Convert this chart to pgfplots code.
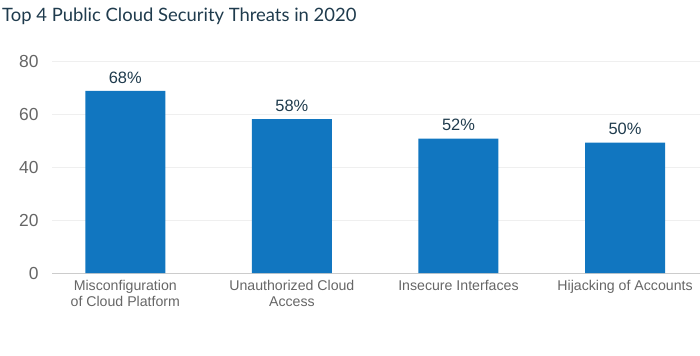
\documentclass[border=0pt]{standalone}
\usepackage{fontspec}
\setmainfont{Liberation Sans}
\newfontfamily\titlefont{Lato}
\usepackage{pgfplots}
\pgfplotsset{compat=1.18}
\definecolor{barblue}{HTML}{1176C0}
\definecolor{titlecol}{HTML}{1F3B4D}
\definecolor{tickgray}{HTML}{666666}
\definecolor{gridgray}{HTML}{EFEFEF}
\definecolor{axisgray}{HTML}{CCCCCC}
\begin{document}
\begin{tikzpicture}[x=1bp,y=1bp]
\useasboundingbox (0,0) rectangle (700,355);
\node[anchor=base west, font=\titlefont\fontsize{18.5}{22}\selectfont, text=titlecol, inner sep=0] at (2,334) {Top 4 Public Cloud Security Threats in 2020};
\begin{axis}[
  at={(52bp,82bp)}, anchor=south west,
  scale only axis, width=648bp, height=212bp,
  xmin=-0.44, xmax=3.45, ymin=0, ymax=80,
  ytick={0,20,40,60,80},
  xtick={0,1,2,3},
  xticklabels={{Misconfiguration\\of Cloud Platform},{Unauthorized Cloud\\Access},{Insecure Interfaces},{Hijacking of Accounts}},
  xticklabel style={align=center, font=\fontsize{14.2}{16}\selectfont, text=tickgray, anchor=north, yshift=-4bp},
  yticklabel style={font=\fontsize{17.5}{20}\selectfont, text=tickgray, anchor=east, xshift=-10bp},
  /pgf/number format/assume math mode=true,
  major tick length=0pt,
  ymajorgrids, grid style={gridgray, line width=0.8bp},
  axis x line*=bottom, axis y line*=left,
  x axis line style={axisgray, line width=1bp, -},
  y axis line style={draw=none},
  clip=false,
  nodes near coords={\pgfplotspointmeta},
  point meta=explicit symbolic,
  every node near coord/.append style={font=\fontsize{16.5}{19}\selectfont, text=titlecol, anchor=south, yshift=4bp},
]
\addplot[ybar, bar width=80bp, fill=barblue, draw=none] table[meta=label] {
x y label
0 68.7 68\%
1 58.1 58\%
2 50.7 52\%
3 49.2 50\%
};
\end{axis}
\end{tikzpicture}
\end{document}
